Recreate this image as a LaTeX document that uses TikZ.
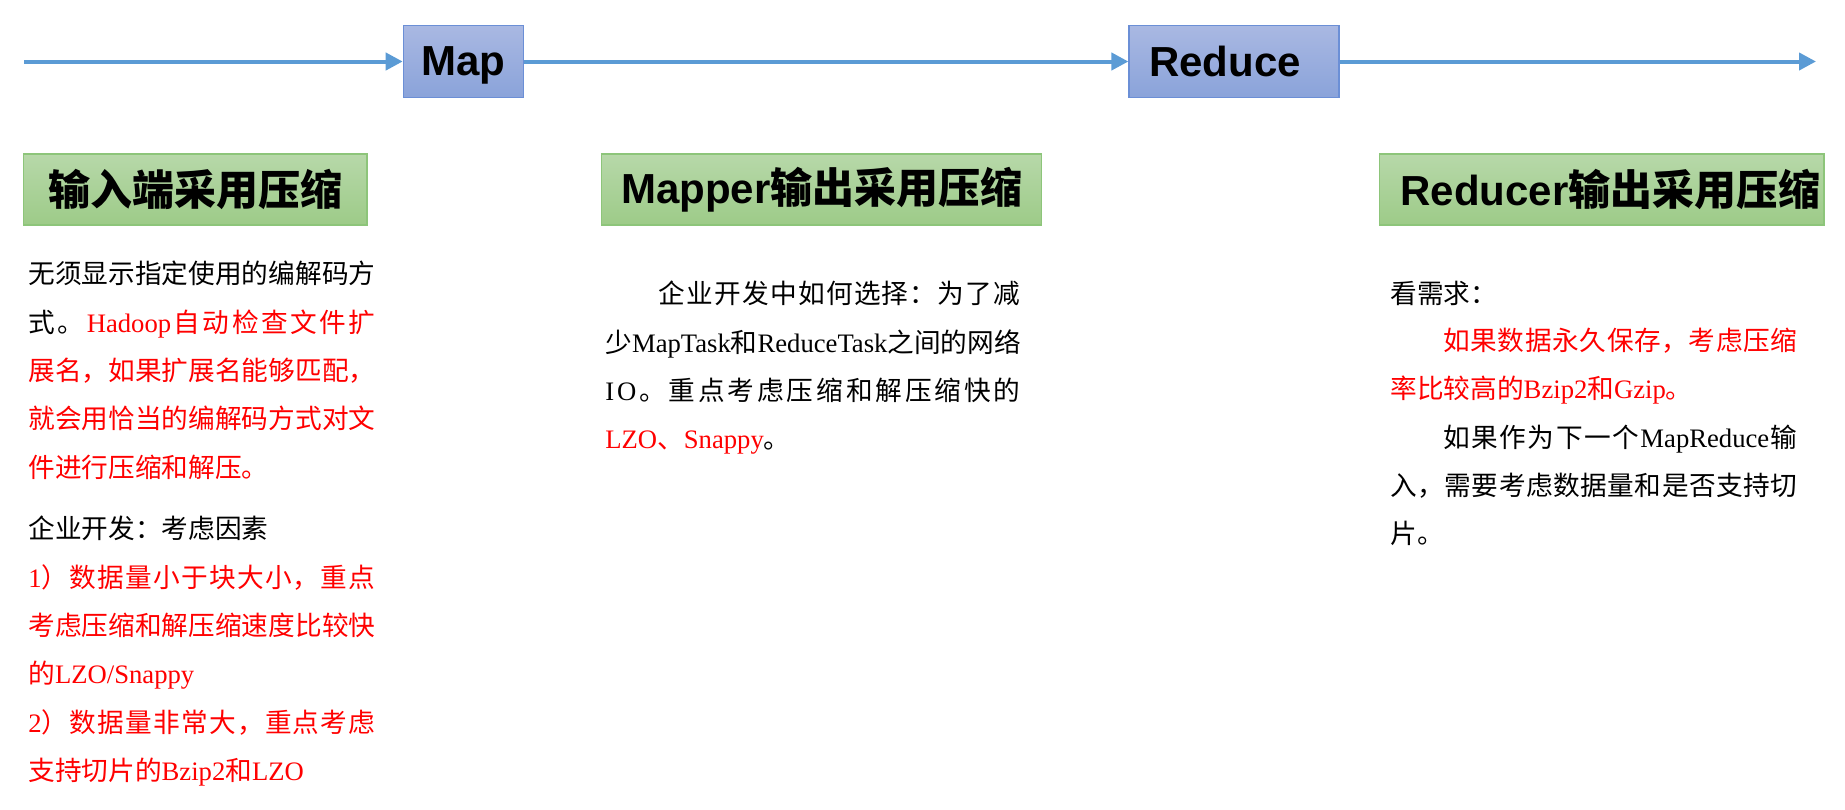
\documentclass[tikz,border=0pt]{standalone}
\usepackage{fontspec}
\usepackage{xcolor}
\usepackage{tikz}
\usetikzlibrary{arrows.meta}
\setmainfont{Liberation Serif}
\setsansfont{Liberation Sans}
\newfontfamily\zh{Noto Sans CJK SC}
\newXeTeXintercharclass\zhclass
\newcount\zhcode
\def\zhrange#1#2{\zhcode=#1 \loop\XeTeXcharclass\zhcode=\zhclass\advance\zhcode by 1 \ifnum\zhcode<#2 \repeat}
\zhrange{"3000}{"3040}
\zhrange{"4E00}{"A000}
\zhrange{"FF00}{"FFF0}
\XeTeXinterchartoks\zhclass\zhclass={\hskip 0pt plus 1pt\relax}
\XeTeXinterchartokenstate=1
\definecolor{flow}{HTML}{5B9BD5}
\definecolor{stagetop}{HTML}{A9B8E2}
\definecolor{stagebot}{HTML}{8AA3DA}
\definecolor{stageedge}{HTML}{6B8FD6}
\definecolor{headtop}{HTML}{B7D8A9}
\definecolor{headbot}{HTML}{9DCB88}
\definecolor{headedge}{HTML}{8DC57A}
\definecolor{hot}{HTML}{FF0000}
\newcommand{\fitline}[2]{\makebox[#1][s]{#2}}
\newcommand{\gap}{\hskip 0pt plus 1pt\relax}
\tikzset{
  flowline/.style={draw=flow, line width=2pt, -{Triangle[length=8.5pt,width=8.5pt]}},
  stage/.style={draw=stageedge, line width=0.6pt, top color=stagetop, bottom color=stagebot,
    minimum height=35.8pt, inner sep=0pt, text depth=0pt, font=\sffamily\bfseries\fontsize{21}{24}\selectfont},
  head/.style={draw=headedge, line width=0.6pt, top color=headtop, bottom color=headbot,
    minimum height=35.5pt, inner sep=0pt, font=\sffamily\bfseries\fontsize{21}{24}\selectfont},
  body/.style={anchor=base west, inner sep=0pt, font=\fontsize{13.33}{16}\selectfont},
  hotbody/.style={body, text=hot}
}
\begin{document}
\begin{tikzpicture}[x=0.5pt, y=-0.5pt]
  \useasboundingbox (0,0) rectangle (1845,809);
  \node[stage, minimum width=60.2pt] (map) at (463.5,61.5) {Map};
  \node[stage, minimum width=105pt] (reduce) at (1234,61.5) {Reduce\hspace*{9pt}};
  \coordinate (in) at (24,61.5);
  \coordinate (out) at (1816,61.5);
  \draw[flowline] (in) -- (map);
  \draw[flowline] (map) -- (reduce);
  \draw[flowline] (reduce) -- (out);

  \node[head, minimum width=171.75pt] (inhead) at (195.25,189.5) {\zh 输入端采用压缩};
  \node[head, minimum width=220pt] (maphead) at (821.7,189.5) {Mapper{\zh 输出采用压缩}};
  \node[head, minimum width=222.3pt, inner xsep=10.5pt] (redhead) at (1601.7,189.5)
    {\makebox[201.3pt][l]{Reducer{\zh 输出采用压缩}}};

  \node[body] (in1) at (28,283) {\fitline{173.5pt}{\zh 无须显示指定使用的编解码方}};
  \node[body] (in2) at (28,332) {\fitline{173.5pt}{{\zh 式。}\gap\textcolor{hot}{Hadoop\gap{\zh 自动检查文件扩}}}};
  \node[hotbody] (in3) at (28,380) {\fitline{173.5pt}{\zh 展名，如果扩展名能够匹配，}};
  \node[hotbody] (in4) at (28,428) {\fitline{173.5pt}{\zh 就会用恰当的编解码方式对文}};
  \node[hotbody] (in5) at (28,477) {\zh 件进行压缩和解压。};
  \node[body] (in6) at (28,538) {\zh 企业开发：考虑因素};
  \node[hotbody] (in7) at (28,587) {\fitline{173.5pt}{1{\zh ）数据量小于块大小，重点}}};
  \node[hotbody] (in8) at (28,635) {\fitline{173.5pt}{\zh 考虑压缩和解压缩速度比较快}};
  \node[hotbody] (in9) at (28,683) {{\zh 的}LZO/Snappy};
  \node[hotbody] (in10) at (28,732) {\fitline{173.5pt}{2{\zh ）数据量非常大，重点考虑}}};
  \node[hotbody] (in11) at (28,780) {{\zh 支持切片的}Bzip2{\zh 和}LZO};

  \node[body] (mid1) at (658,303) {\fitline{181pt}{\zh 企业开发中如何选择：为了减}};
  \node[body] (mid2) at (605,352) {\fitline{207.5pt}{{\zh 少}\gap MapTask\gap{\zh 和}\gap ReduceTask\gap{\zh 之间的网络}}};
  \node[body] (mid3) at (605,400) {\fitline{207.5pt}{I\gap O\gap{\zh 。重点考虑压缩和解压缩快的}}};
  \node[body] (mid4) at (605,448) {\textcolor{hot}{LZO{\zh 、}Snappy}{\zh 。}};

  \node[body] (out1) at (1390,303) {\zh 看需求：};
  \node[hotbody] (out2) at (1443,350) {\fitline{177pt}{\zh 如果数据永久保存，考虑压缩}};
  \node[hotbody] (out3) at (1390,398) {{\zh 率比较高的}Bzip2{\zh 和}Gzip{\zh 。}};
  \node[body] (out4) at (1443,447) {\fitline{177pt}{{\zh 如果作为下一个}\gap MapReduce\gap{\zh 输}}};
  \node[body] (out5) at (1390,495) {\fitline{203.5pt}{\zh 入，需要考虑数据量和是否支持切}};
  \node[body] (out6) at (1390,543) {\zh 片。};
\end{tikzpicture}
\end{document}
